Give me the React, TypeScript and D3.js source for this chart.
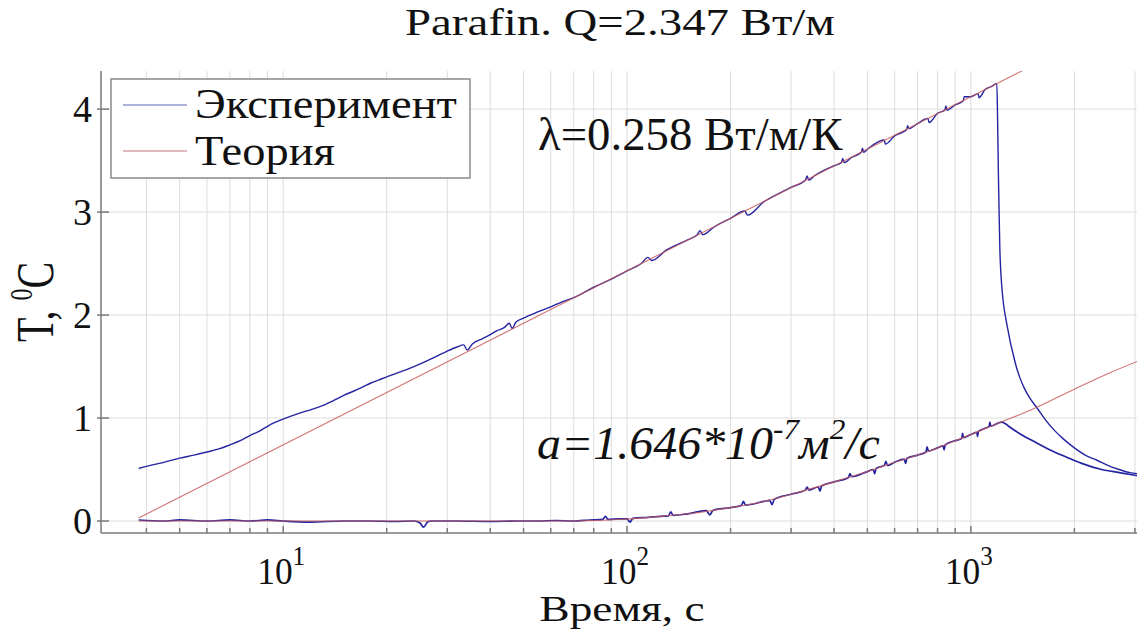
import React, { useLayoutEffect, useRef, useState } from "react";
import * as d3 from "d3";

// ---- data -------------------------------------------------------------
// Experimental temperature rise at the heater (upper trace) and at the probe (lower trace)
const expUpper: [number, number][] = [
  [3.8, 0.51], [4, 0.53], [4.5, 0.57], [5, 0.61], [5.5, 0.64], [6, 0.67], [6.5, 0.7], [7, 0.74],
  [7.5, 0.78], [8, 0.83], [8.5, 0.87], [9, 0.92], [9.5, 0.96], [10, 0.99], [11, 1.04], [12, 1.08],
  [13, 1.12], [14, 1.17], [15, 1.22], [16, 1.26], [17, 1.3], [18, 1.34], [19, 1.37], [20, 1.4],
  [22, 1.45], [24, 1.5], [26, 1.55], [28, 1.6], [30, 1.65], [32, 1.69], [33.5, 1.71], [34.3, 1.66],
  [35.5, 1.72], [38, 1.77], [40, 1.81], [42, 1.85], [44, 1.88], [45.5, 1.92], [46.3, 1.87], [47.5, 1.93],
  [50, 1.97], [55, 2.03], [60, 2.08], [65, 2.13], [70, 2.17], [80, 2.27], [90, 2.35], [100, 2.43],
  [110, 2.5], [115, 2.56], [118, 2.53], [130, 2.63], [150, 2.73], [160, 2.78], [163, 2.82], [166, 2.78],
  [180, 2.86], [200, 2.94], [220, 3.01], [224, 2.97], [250, 3.1], [280, 3.19], [300, 3.24], [330, 3.31],
  [334, 3.35], [338, 3.31], [350, 3.35], [400, 3.45], [420, 3.48], [424, 3.52], [428, 3.48], [450, 3.53],
  [480, 3.58], [484, 3.62], [488, 3.58], [500, 3.61], [560, 3.7], [564, 3.66], [600, 3.74], [650, 3.8],
  [655, 3.84], [660, 3.81], [700, 3.86], [750, 3.91], [756, 3.87], [800, 3.96], [840, 3.99], [846, 4.03],
  [852, 3.99], [900, 4.04], [950, 4.08], [956, 4.12], [1000, 4.12], [1050, 4.15], [1056, 4.11], [1100, 4.19],
  [1150, 4.22], [1190, 4.25], [1196, 3.9], [1202, 3.4], [1208, 3.0], [1214, 2.65], [1222, 2.42],
  [1232, 2.25], [1245, 2.1], [1260, 1.99], [1281, 1.86], [1300, 1.75], [1325, 1.63], [1355, 1.5],
  [1389, 1.39], [1430, 1.29], [1480, 1.2], [1556, 1.1], [1650, 0.98], [1750, 0.88], [1853, 0.8],
  [2000, 0.71], [2150, 0.64], [2327, 0.59], [2500, 0.54], [2700, 0.5], [2900, 0.47], [3050, 0.46],
];

const expLower: [number, number][] = [
  [3.8, 0.01], [4.5, 0.0], [5, 0.01], [6, 0.0], [7, 0.01], [8, 0.0], [9, 0.01], [10, 0.0], [12, -0.01],
  [15, 0.0], [18, 0.0], [21, -0.005], [24, 0.0], [25, -0.02], [25.6, -0.06], [26.3, -0.01], [27, 0.0],
  [32, 0.0], [40, -0.005], [48, 0.0], [55, 0.0], [62, 0.005], [70, 0.0], [78, 0.01], [85, 0.015],
  [86.5, 0.045], [88, 0.015], [95, 0.02], [100, 0.02], [102, -0.01], [104, 0.025], [115, 0.035],
  [125, 0.045], [132, 0.05], [134, 0.09], [136, 0.055], [150, 0.07], [170, 0.1], [174, 0.06], [178, 0.105],
  [200, 0.13], [215, 0.15], [218, 0.19], [221, 0.155], [250, 0.19], [260, 0.2], [264, 0.16], [268, 0.21],
  [300, 0.26], [330, 0.3], [334, 0.33], [338, 0.3], [360, 0.33], [364, 0.29], [368, 0.34], [400, 0.38],
  [440, 0.42], [445, 0.46], [450, 0.43], [500, 0.48], [520, 0.5], [525, 0.46], [530, 0.51], [560, 0.54],
  [566, 0.58], [572, 0.54], [600, 0.57], [640, 0.6], [646, 0.56], [652, 0.61], [700, 0.64], [740, 0.67],
  [746, 0.72], [752, 0.68], [800, 0.71], [830, 0.73], [836, 0.69], [842, 0.74], [900, 0.78], [940, 0.8],
  [946, 0.85], [952, 0.81], [1000, 0.84], [1040, 0.86], [1046, 0.82], [1052, 0.87], [1100, 0.9],
  [1130, 0.92], [1136, 0.96], [1142, 0.92], [1200, 0.95], [1230, 0.96], [1260, 0.945], [1300, 0.91],
  [1400, 0.84], [1550, 0.76], [1700, 0.69], [1900, 0.62], [2100, 0.56], [2400, 0.5], [2700, 0.47],
  [3050, 0.44],
];

// Theoretical curves
const theoryUpper: [number, number][] = [[3.8, 0.03], [3100, 4.95]];
const theoryLower: [number, number][] = [
  [3.8, 0.0], [30, 0.0], [60, 0.0], [80, 0.005], [100, 0.02], [120, 0.04], [150, 0.07], [200, 0.13],
  [250, 0.19], [300, 0.26], [400, 0.38], [500, 0.48], [600, 0.57], [700, 0.64], [800, 0.71], [900, 0.78],
  [1000, 0.84], [1200, 0.95], [1500, 1.08], [2000, 1.28], [2500, 1.43], [3100, 1.56],
];

const yTicks = [0, 1, 2, 3, 4];
const xMajor = [10, 100, 1000];
const xMajorExp = ["1", "2", "3"];
const xMinor = [4, 5, 6, 7, 8, 9, 20, 30, 40, 50, 60, 70, 80, 90, 200, 300, 400, 500, 600, 700, 800, 900, 2000, 3000];

const titleText = "Parafin. Q=2.347 Вт/м";
const xLabel = "Время, с";
const legendLabels = ["Эксперимент", "Теория"];

// ---- layout -----------------------------------------------------------
const W = 1137;
const H = 635;
const left = 101;
const right = 1137;
const top = 71;
const bottom = 533;

const BLUE = "#2424a2";
const RED = "#c85a5c";
const FONT = "'Liberation Serif', 'DejaVu Serif', serif";

// Text that is stretched horizontally to a given width
function FitText(props: {
  x: number; y: number; w: number; size: number; anchor?: string; italic?: boolean;
  children: React.ReactNode;
}) {
  const ref = useRef<SVGTextElement>(null);
  const [s, setS] = useState(1);
  useLayoutEffect(() => {
    if (ref.current) {
      const bw = ref.current.getBBox().width;
      if (bw > 0) setS(props.w / bw);
    }
  }, [props.w]);
  return (
    <text
      ref={ref}
      transform={`translate(${props.x},${props.y}) scale(${s},1)`}
      textAnchor={props.anchor || "start"}
      fontSize={props.size}
      fontStyle={props.italic ? "italic" : "normal"}
      fontFamily={FONT}
      fill="#111"
    >
      {props.children}
    </text>
  );
}

export default function App() {
  const x = d3.scaleLog().domain([2.952, 3042]).range([left, right]);
  const y = d3.scaleLinear().domain([-0.1165, 4.37]).range([bottom, top]);

  const line = d3
    .line<[number, number]>()
    .x((d) => x(d[0]))
    .y((d) => y(d[1]))
    .curve(d3.curveMonotoneX);
  const straight = d3
    .line<[number, number]>()
    .x((d) => x(d[0]))
    .y((d) => y(d[1]));

  const gridX = [...xMinor, ...xMajor];

  return (
    <svg width={W} height={H} style={{ position: "absolute", left: 0, top: 0, background: "#fff" }}>
      <defs>
        <clipPath id="plot">
          <rect x={left} y={top} width={right - left} height={bottom - top} />
        </clipPath>
      </defs>
      <rect width={W} height={H} fill="#fff" />

      {/* grid */}
      <g stroke="#dcdcdc" strokeWidth={1}>
        {gridX.map((v) => (
          <line key={"gx" + v} x1={x(v)} x2={x(v)} y1={top} y2={bottom} />
        ))}
        {yTicks.map((v) => (
          <line key={"gy" + v} x1={left} x2={right} y1={y(v)} y2={y(v)} />
        ))}
      </g>

      {/* curves */}
      <g clipPath="url(#plot)" fill="none">
        <path d={line(expUpper) || ""} stroke={BLUE} strokeWidth={1.4} />
        <path d={line(expLower) || ""} stroke={BLUE} strokeWidth={1.7} />
        <path d={straight(theoryUpper) || ""} stroke={RED} strokeWidth={1.1} strokeOpacity={0.85} />
        <path d={line(theoryLower) || ""} stroke={RED} strokeWidth={1.1} strokeOpacity={0.85} />
      </g>

      {/* axes */}
      <g stroke="#7a7a7a" strokeWidth={1.5}>
        <line x1={left} x2={left} y1={top} y2={bottom} />
        <line x1={left} x2={right} y1={bottom} y2={bottom} />
        {yTicks.map((v) => (
          <line key={"ty" + v} x1={left - 4} x2={left + 8} y1={y(v)} y2={y(v)} />
        ))}
        {gridX.map((v) => (
          <line key={"tx" + v} x1={x(v)} x2={x(v)} y1={bottom} y2={bottom - (xMajor.includes(v) ? 7 : 5)} />
        ))}
      </g>

      {/* y tick labels */}
      {yTicks.map((v) => (
        <FitText key={"ly" + v} x={92} y={y(v) + 13} w={19} size={38} anchor="end">
          {String(v)}
        </FitText>
      ))}

      {/* x tick labels */}
      {xMajor.map((v, i) => (
        <FitText key={"lx" + v} x={x(v) - 2} y={584} w={48} size={38} anchor="middle">
          10
          <tspan fontSize={27} dy={-19}>{xMajorExp[i]}</tspan>
        </FitText>
      ))}

      {/* title and axis labels */}
      <FitText x={620} y={35} w={430} size={37} anchor="middle">{titleText}</FitText>
      <FitText x={622} y={621} w={165} size={36} anchor="middle">{xLabel}</FitText>
      <text
        transform={`translate(53,302) scale(1.3,1) rotate(-90)`}
        textAnchor="middle"
        fontSize={40}
        fontFamily={FONT}
        fill="#111"
      >
        T,{" "}
        <tspan fontSize={24} dy={-16}>0</tspan>
        <tspan dy={16}>C</tspan>
      </text>

      {/* annotations */}
      <FitText x={538} y={150} w={305} size={46}>λ=0.258 Вт/м/К</FitText>
      <FitText x={537} y={459} w={343} size={46} italic>
        a=1.646*10
        <tspan fontSize={30} dy={-20}>-7</tspan>
        <tspan dy={20}>м</tspan>
        <tspan fontSize={30} dy={-20}>2</tspan>
        <tspan dy={20}>/с</tspan>
      </FitText>

      {/* legend */}
      <rect x={111} y={79} width={359} height={99} fill="#fff" stroke="#8a8a8a" strokeWidth={1.5} />
      <line x1={123} x2={187} y1={105} y2={105} stroke="#5a66b8" strokeWidth={1.2} />
      <line x1={123} x2={187} y1={151} y2={151} stroke="#c07478" strokeWidth={1.2} />
      <FitText x={195} y={118} w={262} size={42}>{legendLabels[0]}</FitText>
      <FitText x={195} y={165} w={140} size={42}>{legendLabels[1]}</FitText>
    </svg>
  );
}
